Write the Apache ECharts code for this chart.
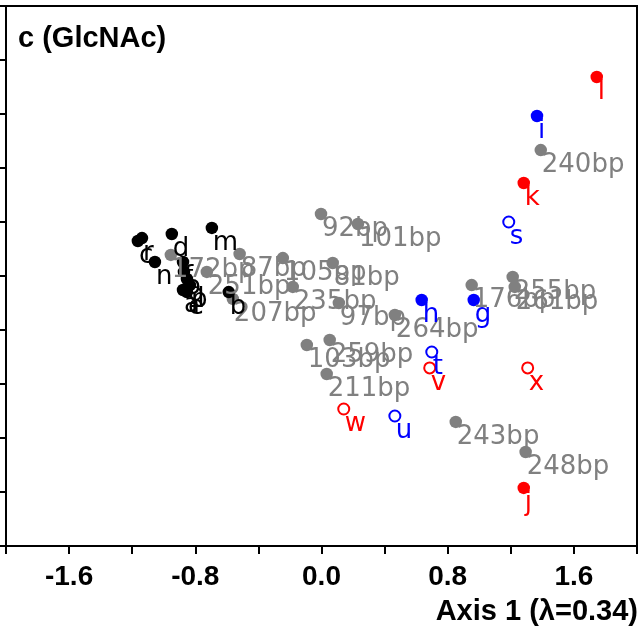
<!DOCTYPE html>
<html><head><meta charset="utf-8">
<script src="https://cdn.jsdelivr.net/npm/echarts@6/dist/echarts.min.js"></script>
<style>html,body{margin:0;padding:0;background:#fff}#c{width:640px;height:629px}</style>
</head><body><div id="c"></div>
<script>
const titleText = 'c (GlcNAc)';
const xAxisName = 'Axis 1 (λ=0.34)';
const xTickLabels = ['-1.6', '-0.8', '0.0', '0.8', '1.6'];

const grayNames = ['92bp','101bp','172bp','87bp','105bp','81bp','251bp','235bp','207bp','97bp','264bp','103bp','259bp','211bp','176bp','255bp','261bp','240bp','243bp','248bp'];
const grayX = [-0.003,0.231,-0.955,-0.519,-0.245,0.071,-0.727,-0.182,-0.562,0.110,0.465,-0.093,0.052,0.033,0.952,1.212,1.225,1.390,0.851,1.294];
const grayY = [0.459,0.385,0.156,0.163,0.133,0.096,0.030,-0.081,-0.170,-0.200,-0.289,-0.511,-0.474,-0.726,-0.067,-0.007,-0.081,0.933,-1.081,-1.304];

const blackNames = ['c','r','d','m','n','f','o','q','p','a','e','b'];
const blackX = [-1.164,-1.138,-0.949,-0.695,-1.056,-0.878,-0.872,-0.853,-0.834,-0.878,-0.853,-0.588];
const blackY = [0.259,0.281,0.311,0.356,0.104,0.104,0.030,-0.022,-0.067,-0.104,-0.119,-0.119];

const blueFilledNames = ['g','h','i'];
const blueFilledX = [0.965,0.635,1.366];
const blueFilledY = [-0.178,-0.178,1.185];

const blueOpenNames = ['s','t','u'];
const blueOpenX = [1.187,0.699,0.465];
const blueOpenY = [0.400,-0.563,-1.037];

const redFilledNames = ['j','k','l'];
const redFilledX = [1.282,1.282,1.745];
const redFilledY = [-1.570,0.689,1.474];

const redOpenNames = ['v','w','x'];
const redOpenX = [0.686,0.141,1.307];
const redOpenY = [-0.681,-0.985,-0.681];

function pts(names, xs, ys) {
  return names.map((n, i) => ({ name: n, value: [xs[i], ys[i]] }));
}
const FONT = '"Liberation Sans", Arial, sans-serif';
const LFONT = '"DejaVu Sans", sans-serif';
function lab(color) {
  return {
    show: true, position: 'inside', align: 'left', verticalAlign: 'middle',
    offset: [1, 15], formatter: p => p.name, color: color,
    fontSize: 26, fontFamily: LFONT
  };
}
function filled(names, xs, ys, color) {
  return {
    type: 'scatter', symbol: 'circle', symbolSize: 12.5,
    itemStyle: { color: color, opacity: 1 },
    label: lab(color), data: pts(names, xs, ys), silent: true, animation: false
  };
}
function open(names, xs, ys, color) {
  return {
    type: 'scatter', symbol: 'circle', symbolSize: 11,
    itemStyle: { color: 'rgba(0,0,0,0)', borderColor: color, borderWidth: 2, opacity: 1 },
    label: lab(color), data: pts(names, xs, ys), silent: true, animation: false
  };
}

const chart = echarts.init(document.getElementById('c'), null, { renderer: 'canvas' });
chart.setOption({
  animation: false,
  backgroundColor: '#fff',
  title: [
    { text: titleText, left: 18, top: 24, padding: 0,
      textStyle: { fontSize: 29, fontWeight: 'bold', color: '#000', fontFamily: FONT } },
    { text: xAxisName, right: 2, top: 597, padding: 0,
      textStyle: { fontSize: 29, fontWeight: 'bold', color: '#000', fontFamily: FONT } }
  ],
  grid: { left: 6, right: 1, top: 6, bottom: 83, show: true, borderColor: '#000', borderWidth: 2, backgroundColor: 'transparent' },
  xAxis: {
    type: 'value', min: -2.0, max: 2.0, interval: 0.4,
    splitLine: { show: false },
    axisLine: { show: true, onZero: false, lineStyle: { color: '#000', width: 2 } },
    axisTick: { show: true, inside: false, length: 8, lineStyle: { color: '#000', width: 2 } },
    axisLabel: {
      show: true, margin: 17, color: '#000', fontSize: 28, fontWeight: 'bold', fontFamily: FONT,
      showMinLabel: true, showMaxLabel: true,
      formatter: v => { const s = Math.abs(v) < 1e-9 ? '0.0' : v.toFixed(1); return xTickLabels.includes(s) ? s : ''; }
    }
  },
  yAxis: {
    type: 'value', min: -2.0, max: 2.0, interval: 0.4,
    splitLine: { show: false },
    axisLine: { show: true, onZero: false, lineStyle: { color: '#000', width: 2 } },
    axisTick: { show: true, inside: false, length: 6, lineStyle: { color: '#000', width: 2 } },
    axisLabel: { show: false }
  },
  series: [
    filled(grayNames, grayX, grayY, '#808080'),
    filled(blackNames, blackX, blackY, '#000000'),
    filled(blueFilledNames, blueFilledX, blueFilledY, '#0000ff'),
    open(blueOpenNames, blueOpenX, blueOpenY, '#0000ff'),
    filled(redFilledNames, redFilledX, redFilledY, '#ff0000'),
    open(redOpenNames, redOpenX, redOpenY, '#ff0000')
  ]
});
</script></body></html>
